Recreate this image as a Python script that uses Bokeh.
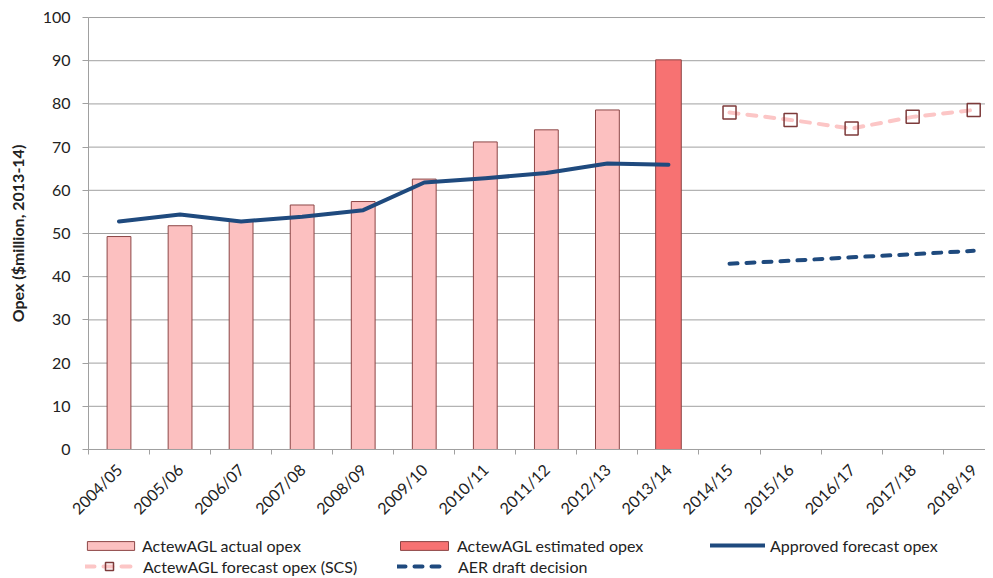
import math
from bokeh.plotting import figure
from bokeh.models import Range1d, FixedTicker, Legend, LegendItem, LinearAxis
from bokeh.embed import file_html
from bokeh.resources import INLINE

# ---------------- data ----------------
categories = ["2004/05", "2005/06", "2006/07", "2007/08", "2008/09", "2009/10",
              "2010/11", "2011/12", "2012/13", "2013/14", "2014/15", "2015/16",
              "2016/17", "2017/18", "2018/19"]
actual_years = categories[:9]
actual_opex = [49.3, 51.8, 53.0, 56.6, 57.4, 62.6, 71.2, 74.0, 78.6]
estimated_years = ["2013/14"]
estimated_opex = [90.2]
approved_years = categories[:10]
approved_opex = [52.8, 54.4, 52.8, 53.9, 55.4, 61.8, 62.8, 64.0, 66.2, 65.9]
forecast_years = categories[10:]
scs_forecast_opex = [78.0, 76.3, 74.3, 77.0, 78.6]
aer_draft_opex = [43.0, 43.7, 44.5, 45.2, 46.0]
y_ticks = [0, 10, 20, 30, 40, 50, 60, 70, 80, 90, 100]

FONT = "Lato"
TEXT = "#222222"
GRID = "#A0A0A0"

pos = {c: i + 0.5 for i, c in enumerate(categories)}
boundaries = list(range(len(categories)))
n_cat = len(categories)

# The frame covers the whole canvas; both axes are pinned inside it
# (value axis at the first category boundary, category axis at 0).
p = figure(width=985, height=576, output_backend="svg", toolbar_location=None,
           x_axis_location=None, y_axis_location=None,
           x_range=Range1d(-1.441, 14.693), y_range=Range1d(-29.4, 103.94),
           min_border_left=0, min_border_right=0, min_border_top=0,
           min_border_bottom=0)
p.outline_line_color = None
p.background_fill_color = "white"
p.xgrid.visible = False
p.ygrid.visible = False

# horizontal gridlines across the category area
p.segment(x0=[0] * len(y_ticks), x1=[n_cat] * len(y_ticks), y0=y_ticks,
          y1=y_ticks, line_color=GRID, line_width=1)

ya = LinearAxis(fixed_location=0)
ya.ticker = FixedTicker(ticks=y_ticks)
ya.bounds = (0, 100)
ya.axis_label = "Opex ($million, 2013-14)"
ya.axis_label_text_font = FONT
ya.axis_label_text_font_style = "bold"
ya.axis_label_text_font_size = "16px"
ya.axis_label_text_color = TEXT
ya.axis_label_standoff = 13
ya.major_label_text_font = FONT
ya.major_label_text_font_size = "16px"
ya.major_label_text_color = TEXT
ya.major_label_standoff = 12
ya.major_tick_out = 6
ya.major_tick_in = 0
ya.major_tick_line_color = GRID
ya.minor_tick_line_color = None
ya.axis_line_color = GRID
p.add_layout(ya, "left")

xa = LinearAxis(fixed_location=0)
xa.ticker = FixedTicker(ticks=[pos[c] for c in categories], minor_ticks=boundaries)
xa.bounds = (0, n_cat)
xa.major_label_overrides = {pos[c]: c for c in categories}
xa.major_label_orientation = math.pi / 4
xa.major_label_text_font = FONT
xa.major_label_text_font_size = "16px"
xa.major_label_text_color = TEXT
xa.major_label_standoff = 12
xa.major_tick_line_color = None
xa.major_tick_out = 0
xa.major_tick_in = 0
xa.minor_tick_line_color = GRID
xa.minor_tick_out = 5
xa.minor_tick_in = 0
xa.axis_line_color = GRID
p.add_layout(xa, "below")

# glyphs
r_actual = p.vbar(x=[pos[c] for c in actual_years], top=actual_opex, bottom=0,
                  width=0.39, fill_color="#FCC0C0", line_color="#8C4646",
                  line_width=1)
r_est = p.vbar(x=[pos[c] for c in estimated_years], top=estimated_opex, bottom=0,
               width=0.42, fill_color="#F77272", line_color="#8C4646",
               line_width=1)
r_appr = p.line(x=[pos[c] for c in approved_years], y=approved_opex,
                line_color="#1F4A7E", line_width=4, line_join="round",
                line_cap="round")
r_scs_line = p.line(x=[pos[c] for c in forecast_years], y=scs_forecast_opex,
                    line_color="#FCC6C6", line_width=4, line_dash="9 9",
                    line_cap="round")
r_scs_mark = p.scatter(x=[pos[c] for c in forecast_years], y=scs_forecast_opex,
                       marker="square", size=13, fill_color=None,
                       line_color="#7D3A3A", line_width=1.5)
r_aer = p.line(x=[pos[c] for c in forecast_years], y=aer_draft_opex,
               line_color="#1F4A7E", line_width=4, line_dash="8 9",
               line_cap="round")

# legends (one per slot, positioned relative to the plot frame)
def add_legend(label, renderers, loc, gw, gh, standoff):
    leg = Legend(items=[LegendItem(label=label, renderers=renderers)],
                 location=loc, glyph_width=gw, glyph_height=gh,
                 label_standoff=standoff, label_height=20, padding=0,
                 margin=0, spacing=0, border_line_color=None,
                 background_fill_alpha=0, label_text_font=FONT,
                 label_text_font_size="16px", label_text_color=TEXT)
    p.add_layout(leg, "center")

add_legend("ActewAGL actual opex", [r_actual], (81, 21), 59, 11, 2)
add_legend("ActewAGL estimated opex", [r_est], (394, 21), 60, 11, 3)
add_legend("Approved forecast opex", [r_appr], (710, 21), 55, 20, 5)
add_legend("ActewAGL forecast opex (SCS)", [r_scs_line, r_scs_mark], (85, 0), 48, 20, 10)
add_legend("AER draft decision", [r_aer], (397, 0), 51, 20, 10)

open("out.html", "w").write(file_html(p, INLINE))
